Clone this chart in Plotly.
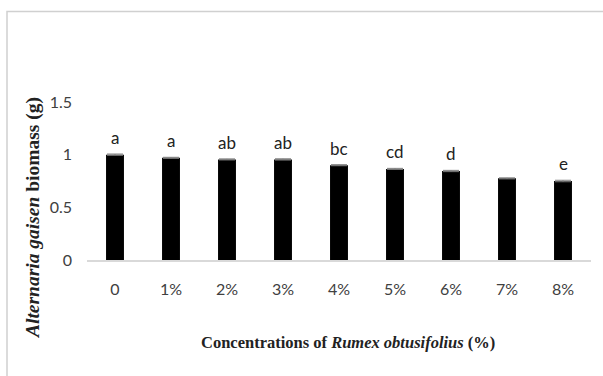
import plotly.graph_objects as go

# Biomass of Alternaria gaisen under increasing Rumex obtusifolius concentrations
concentrations = ["0", "1%", "2%", "3%", "4%", "5%", "6%", "7%", "8%"]
biomass = [1.00, 0.97, 0.955, 0.955, 0.90, 0.865, 0.845, 0.775, 0.75]
std_err = [0.006, 0.005, 0.005, 0.006, 0.005, 0.005, 0.006, 0.005, 0.007]
groups = ["a", "a", "ab", "ab", "bc", "cd", "d", "", "e"]

tick_font = dict(family="Lato, 'Open Sans', sans-serif", size=16, color="#404040")

W, H = 603, 376
L, R, T, B = 87, 12, 102, 116
pw, ph = W - L - R, H - T - B


def px_x(px):
    return (px - L) / pw


def px_y(py):
    return (H - B - py) / ph


fig = go.Figure()
fig.add_trace(go.Bar(
    x=concentrations,
    y=biomass,
    marker=dict(color="black", line=dict(width=0)),
    error_y=dict(type="data", array=std_err, visible=True,
                 color="#7f7f7f", thickness=1, width=8),
    width=0.32,
    showlegend=False,
))

# Significance letters above each bar
for c, v, e, g in zip(concentrations, biomass, std_err, groups):
    if g:
        fig.add_annotation(x=c, y=v + e, text=g, showarrow=False,
                           xref="x", yref="y", yanchor="bottom", yshift=4,
                           font=dict(family="Lato, 'Open Sans', sans-serif",
                                     size=17, color="#222222"))

# Axis titles
fig.add_annotation(
    x=px_x(348), y=px_y(342), xref="paper", yref="paper",
    xanchor="center", yanchor="middle",
    text="<b>Concentrations of <i>Rumex obtusifolius</i> (%)</b>",
    showarrow=False,
    font=dict(family="'Liberation Serif', 'Times New Roman', serif", size=16.5, color="#222222"),
)
fig.add_annotation(
    x=px_x(33), y=px_y(218), xref="paper", yref="paper",
    xanchor="center", yanchor="middle",
    text="<b><i>Alternaria gaisen</i> biomass (g)</b>",
    showarrow=False, textangle=-90,
    font=dict(family="'Liberation Serif', 'Times New Roman', serif", size=19.5, color="#222222"),
)

# Outer chart frame (light gray)
fig.add_shape(type="rect", xref="paper", yref="paper",
              x0=px_x(7), x1=px_x(W + 5),
              y0=px_y(H + 5), y1=px_y(11.5),
              line=dict(color="#d0d0d0", width=1.5), fillcolor="rgba(0,0,0,0)",
              layer="below")

fig.update_layout(
    width=W, height=H,
    margin=dict(l=L, r=R, t=T, b=B, pad=0),
    plot_bgcolor="white", paper_bgcolor="white",
    bargap=0.68,
    xaxis=dict(
        showline=True, linecolor="#d9d9d9", linewidth=1.5,
        ticks="", tickfont=tick_font, ticklabelstandoff=14,
        showgrid=False, zeroline=False,
    ),
    yaxis=dict(
        range=[0, 1.5], tickvals=[0, 0.5, 1, 1.5], ticktext=["0", "0.5", "1", "1.5"],
        showline=False, ticks="", tickfont=tick_font, ticklabelstandoff=14,
        showgrid=False, zeroline=False,
    ),
)

fig.write_html("out.html")
